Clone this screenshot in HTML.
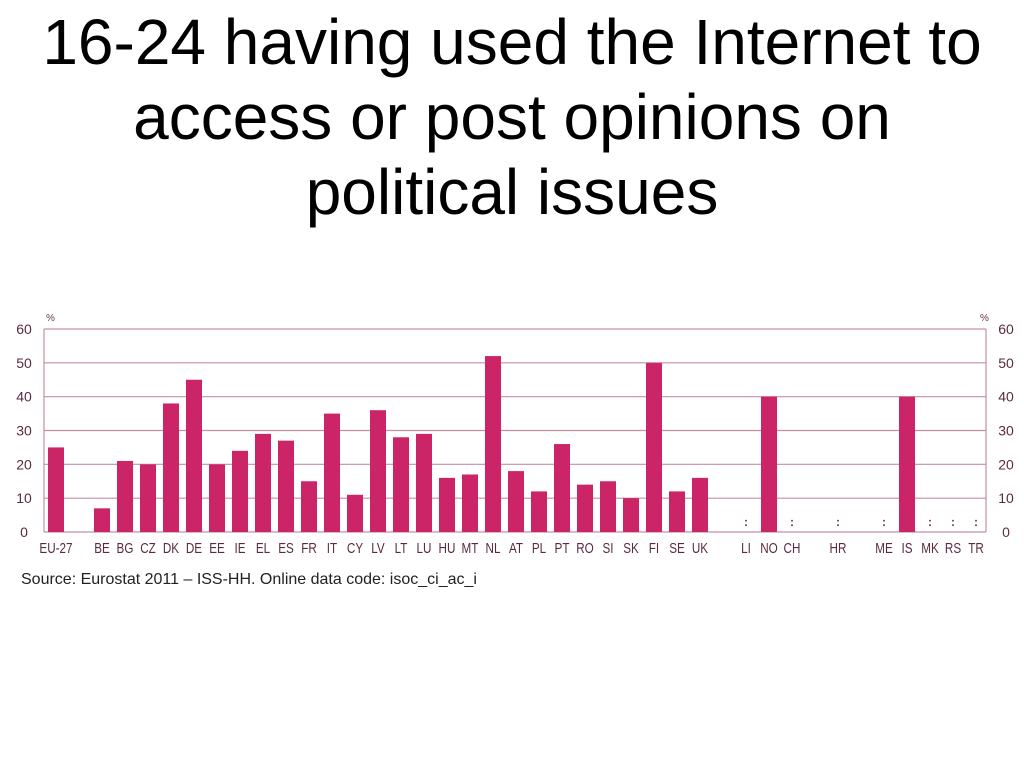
<!DOCTYPE html>
<html><head><meta charset="utf-8"><style>
body{margin:0;width:1024px;height:768px;background:#fff;font-family:"Liberation Sans",sans-serif;overflow:hidden;position:relative}
#title{position:absolute;left:0;top:5px;width:1024px;text-align:center;font-size:64px;line-height:75px;color:#000;white-space:nowrap}
#src{position:absolute;left:21px;top:571px;font-size:16px;color:#222}
svg{position:absolute;left:0;top:0}
</style></head><body>
<div id="title">16-24 having used the Internet to<br>access or post opinions on<br>political issues</div>
<svg id="chart" width="1024" height="768"></svg>
<div id="src">Source: Eurostat 2011 – ISS-HH. Online data code: isoc_ci_ac_i</div>
<script>
const categories=["EU-27","","BE","BG","CZ","DK","DE","EE","IE","EL","ES","FR","IT","CY","LV","LT","LU","HU","MT","NL","AT","PL","PT","RO","SI","SK","FI","SE","UK","","LI","NO","CH","","HR","","ME","IS","MK","RS","TR"];
const values=[25,null,7,21,20,38,45,20,24,29,27,15,35,11,36,28,29,16,17,52,18,12,26,14,15,10,50,12,16,null,":",40,":",null,":",null,":",40,":",":",":"];
const ticks=[0,10,20,30,40,50,60];
const svg=document.getElementById('chart');
const NS="http://www.w3.org/2000/svg";
const x0=44,x1=986,yTop=329,yBot=532,vmax=60;
const y=v=>yBot-(v/vmax)*(yBot-yTop);
const xc=i=>56+i*23;
function mk(t,a){const e=document.createElementNS(NS,t);for(const k in a)e.setAttribute(k,a[k]);svg.appendChild(e);return e;}
ticks.forEach(t=>{
 const l=mk('line',{x1:x0,x2:x1,y1:y(t),y2:y(t),stroke:'#c58fa6','stroke-width':1.2});
 
 
 const a=mk('text',{x:24,y:y(t)+5,'font-size':14,fill:'#5a2a42','text-anchor':'middle'});a.textContent=t;
 
 
 const b=mk('text',{x:1006,y:y(t)+5,'font-size':14,fill:'#5a2a42','text-anchor':'middle'});b.textContent=t;
 
 
});
const ax=mk('line',{x1:x0,x2:x0,y1:yTop,y2:yBot,stroke:'#c58fa6','stroke-width':1.2});


const ax2=mk('line',{x1:x1,x2:x1,y1:yTop,y2:yBot,stroke:'#c58fa6','stroke-width':1.2});


const p1=mk('text',{x:46,y:321,'font-size':10,fill:'#6b3350'});p1.textContent='%';


const p2=mk('text',{x:980,y:321,'font-size':10,fill:'#6b3350'});p2.textContent='%';


categories.forEach((c,i)=>{
 if(!c)return;
 const v=values[i];
 if(typeof v==='number'){
  const r=mk('rect',{x:xc(i)-8,y:y(v),width:16,height:yBot-y(v),fill:'#cc2567'});
  
  
 }else if(v===':'){
  const d=mk('text',{x:xc(i),y:yBot-6,'font-size':12,'font-weight':'bold',fill:'#6b3350','text-anchor':'middle'});d.textContent=':';
  
  
 }
 const t=mk('text',{x:xc(i),y:553,'font-size':15,fill:'#5a2a42','text-anchor':'middle',transform:`translate(${xc(i)},0) scale(0.78,1) translate(${-xc(i)},0)`});t.textContent=c;
 
 
});
</script>
</body></html>
